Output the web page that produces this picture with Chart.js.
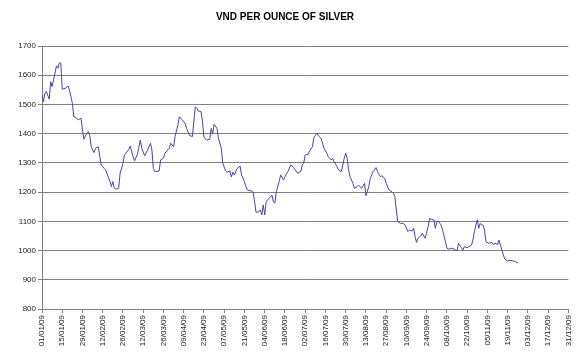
<!DOCTYPE html>
<html>
<head>
<meta charset="utf-8">
<script src="https://cdn.jsdelivr.net/npm/chart.js@4/dist/chart.umd.min.js"></script>
<style>
html,body{margin:0;padding:0;background:#fff;}
#wrap{width:580px;height:356px;position:relative;}
</style>
</head>
<body>
<div id="wrap"><canvas id="c"></canvas></div>
<script>
// Day offsets from 01/01/09 and VND price per ounce
const days = [0,1,2,3,5,6,7,10,11,12,13,14,16,18,19,21,22,24,25,27,28,29,30,32,33,34,36,37,39,40,41,43,44,47,48,49,50,51,53,54,56,57,58,60,61,63,64,66,68,69,71,73,75,76,77,78,81,82,84,85,88,89,91,92,94,95,97,99,100,102,104,106,107,108,110,111,112,114,116,117,118,119,121,122,124,125,127,128,130,131,132,133,135,137,138,140,141,142,145,146,147,148,150,151,152,153,154,155,157,159,160,161,162,164,165,167,168,170,172,174,175,177,179,180,181,182,184,185,187,188,190,191,193,195,197,198,200,201,202,204,205,207,209,210,211,212,213,215,216,218,219,221,223,224,226,227,229,231,232,234,235,237,238,240,242,243,244,245,246,248,250,251,253,254,256,257,258,259,260,262,263,265,267,268,269,271,272,273,274,276,277,279,280,281,283,285,287,288,289,290,291,292,294,295,297,298,299,300,301,302,303,304,305,306,307,309,311,312,314,315,316,317,318,319,320,322,323,325,327,329];
const prices = [1532,1509,1538,1544,1518,1578,1561,1632,1624,1643,1641,1552,1555,1563,1549,1504,1458,1453,1447,1453,1413,1381,1392,1407,1395,1355,1335,1350,1355,1321,1293,1281,1276,1236,1219,1236,1213,1210,1213,1264,1299,1327,1333,1346,1358,1321,1307,1330,1378,1350,1324,1344,1367,1344,1281,1270,1272,1310,1316,1333,1350,1367,1355,1390,1430,1458,1447,1435,1418,1394,1390,1492,1487,1478,1475,1441,1387,1378,1381,1418,1398,1432,1418,1384,1350,1299,1272,1268,1272,1252,1268,1259,1281,1289,1259,1236,1219,1207,1204,1199,1167,1131,1133,1139,1122,1156,1122,1167,1179,1190,1167,1162,1201,1236,1259,1241,1253,1270,1293,1284,1276,1264,1272,1293,1299,1327,1329,1341,1355,1387,1401,1394,1384,1350,1333,1321,1310,1316,1304,1287,1276,1270,1316,1333,1316,1276,1253,1230,1213,1219,1224,1213,1230,1188,1219,1247,1270,1284,1270,1253,1256,1247,1230,1207,1201,1196,1184,1139,1099,1093,1093,1087,1065,1070,1067,1076,1047,1028,1042,1051,1059,1042,1082,1110,1108,1105,1076,1099,1101,1087,1070,1030,1008,1005,1008,1005,999,1025,1016,1010,1002,1013,1010,1013,1019,1036,1065,1087,1105,1076,1093,1087,1087,1070,1030,1025,1028,1021,1025,1019,1036,1019,1002,985,971,964,967,965,963,957];
const tickDays = [0,14,28,42,56,70,84,98,112,126,140,154,168,182,196,210,224,238,252,266,280,294,308,322,336,350,364];
const tickLabels = ['01/01/09','15/01/09','29/01/09','12/02/09','26/02/09','12/03/09','26/03/09','09/04/09','23/04/09','07/05/09','21/05/09','04/06/09','18/06/09','02/07/09','16/07/09','30/07/09','13/08/09','27/08/09','10/09/09','24/09/09','08/10/09','22/10/09','05/11/09','19/11/09','03/12/09','17/12/09','31/12/09'];
const yTicks = [800,900,1000,1100,1200,1300,1400,1500,1600,1700];
const titleText = 'VND PER OUNCE OF SILVER';

const points = days.map((d,i)=>({x:d,y:prices[i]}));
const FONT = "'Liberation Sans', Arial, sans-serif";
const GRID = '#808080';

new Chart(document.getElementById('c'), {
  type: 'line',
  data: {
    datasets: [{
      data: points,
      borderColor: '#4646a8',
      borderWidth: 1,
      pointRadius: 0,
      tension: 0,
      fill: false
    }]
  },
  options: {
    responsive: true,
    maintainAspectRatio: false,
    animation: false,
    layout: { padding: { left: 0, right: 10, top: 0, bottom: 0 } },
    plugins: {
      legend: { display: false },
      tooltip: { enabled: false },
      title: {
        display: true,
        text: titleText,
        color: '#000',
        font: { family: FONT, size: 10, weight: 'bold' },
        padding: { top: 11, bottom: 23 }
      }
    },
    scales: {
      x: {
        type: 'linear',
        min: tickDays[0],
        max: tickDays[tickDays.length-1],
        afterBuildTicks: (s) => { s.ticks = tickDays.map(v=>({value:v})); },
        afterFit: (s) => { s.height = 47; },
        grid: { drawOnChartArea: false, drawTicks: true, tickLength: 4, color: GRID },
        border: { display: true, color: GRID, width: 1 },
        ticks: {
          autoSkip: false,
          minRotation: 90,
          maxRotation: 90,
          padding: 2,
          color: '#222',
          font: { family: FONT, size: 8 },
          callback: (v, i) => tickLabels[i]
        }
      },
      y: {
        min: yTicks[0],
        max: yTicks[yTicks.length-1],
        afterBuildTicks: (s) => { s.ticks = yTicks.map(v=>({value:v})); },
        afterFit: (s) => { s.width = 42; },
        grid: { color: GRID, lineWidth: 1, drawTicks: true, tickLength: 4 },
        border: { display: true, color: GRID, width: 1 },
        ticks: {
          padding: 2,
          color: '#222',
          font: { family: FONT, size: 8 },
          callback: (v) => String(v)
        }
      }
    }
  }
});
</script>
</body>
</html>
